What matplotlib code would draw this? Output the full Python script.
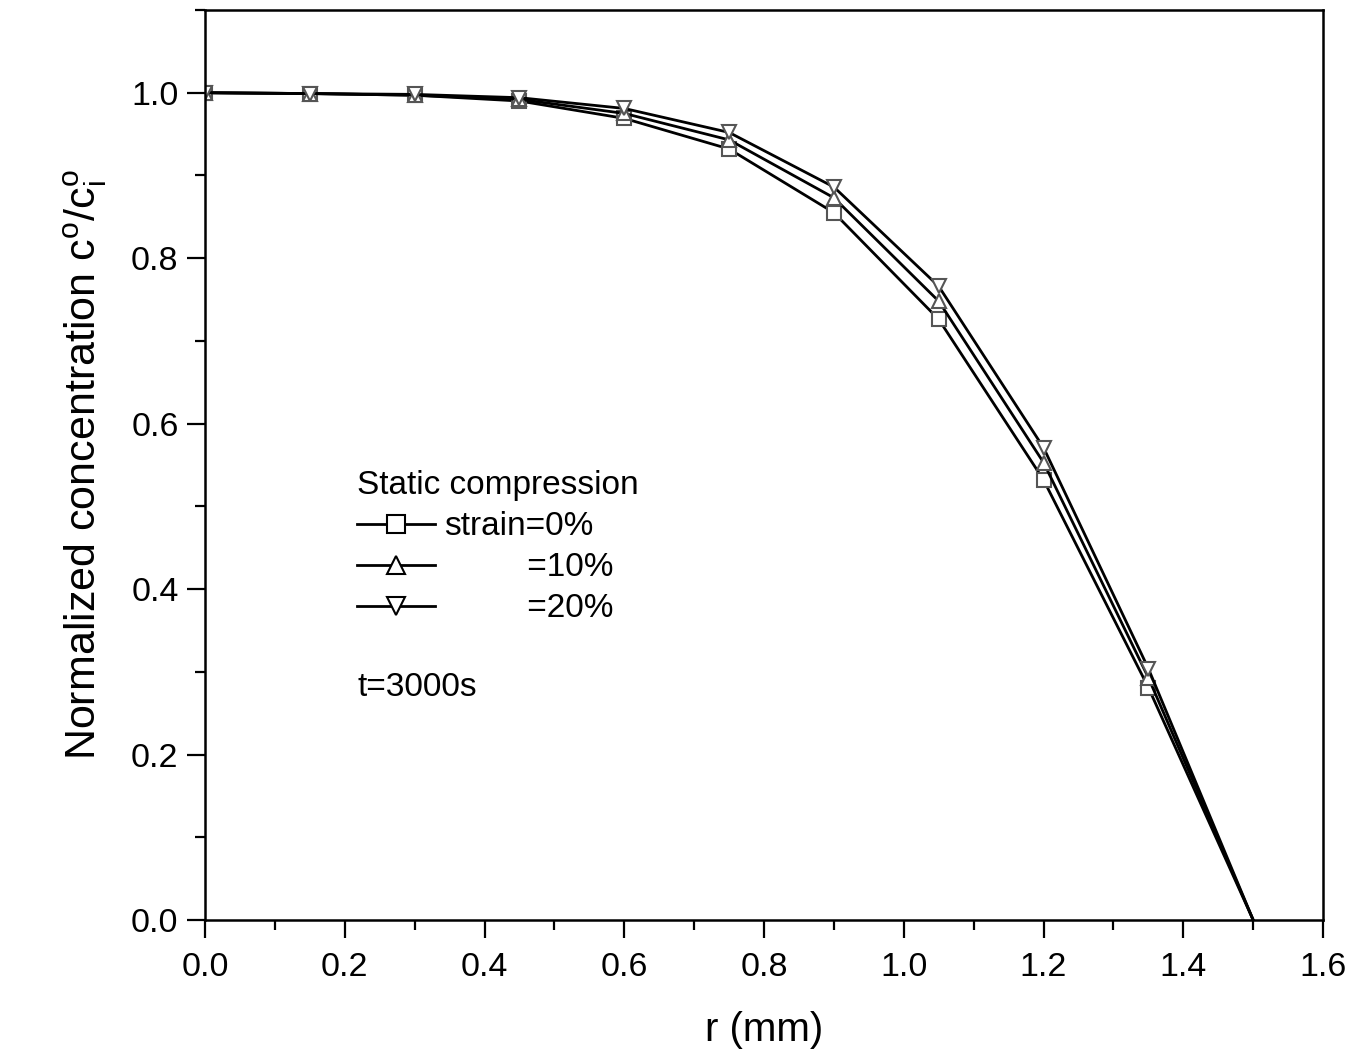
import matplotlib
matplotlib.use('Agg')
import matplotlib.pyplot as plt
from matplotlib.ticker import MultipleLocator

plt.rcParams['font.family'] = ['Liberation Sans', 'DejaVu Sans']
plt.rcParams['mathtext.default'] = 'regular'

# radial position (mm) and normalized concentration for each strain
r = [0.0, 0.15, 0.30, 0.45, 0.60, 0.75, 0.90, 1.05, 1.20, 1.35, 1.50]
strain_0 = [1.000, 0.999, 0.997, 0.990, 0.969, 0.932, 0.855, 0.726, 0.532, 0.281, 0.0]
strain_10 = [1.000, 0.999, 0.997, 0.992, 0.975, 0.943, 0.873, 0.748, 0.553, 0.293, 0.0]
strain_20 = [1.000, 0.999, 0.998, 0.994, 0.981, 0.952, 0.886, 0.766, 0.571, 0.304, 0.0]

# spaces stand in for "strain" so the "=" signs line up
labels = ['strain=0%', ' ' * 9 + '=10%', ' ' * 9 + '=20%']
markers = ['s', '^', 'v']
series = [strain_0, strain_10, strain_20]

fig = plt.figure(figsize=(13.63, 10.53), dpi=100)
ax = fig.add_axes([0.1504, 0.1263, 0.8203, 0.8642])

for y, m, lab in zip(series, markers, labels):
    ax.plot(r, y, color='black', lw=2, marker=m, markersize=10,
            markerfacecolor='white', markeredgecolor='#555555',
            markeredgewidth=1.5, markevery=slice(0, 10), label=lab)

ax.set_xlim(0, 1.6)
ax.set_ylim(0, 1.1)
ax.set_xticks([0, 0.2, 0.4, 0.6, 0.8, 1.0, 1.2, 1.4, 1.6])
ax.set_yticks([0, 0.2, 0.4, 0.6, 0.8, 1.0])
ax.xaxis.set_minor_locator(MultipleLocator(0.1))
ax.yaxis.set_minor_locator(MultipleLocator(0.1))
ax.xaxis.set_major_formatter(plt.FormatStrFormatter('%.1f'))
ax.yaxis.set_major_formatter(plt.FormatStrFormatter('%.1f'))

ax.tick_params(which='both', direction='out', top=False, right=False, width=1.6)
ax.tick_params(which='major', length=13, labelsize=24.5)
ax.tick_params(which='minor', length=7)
ax.tick_params(axis='x', which='major', pad=10)
ax.tick_params(axis='y', which='major', pad=6)
for s in ax.spines.values():
    s.set_linewidth(1.8)

ax.set_xlabel('r (mm)', fontsize=29, labelpad=20)
ax.set_ylabel(r'Normalized concentration c$^{o}$/c$^{o}_{i}$', fontsize=31, labelpad=16)

leg = ax.legend(loc='upper left', bbox_to_anchor=(0.136, 0.494), frameon=False,
                title='Static compression', title_fontsize=24, fontsize=24,
                handlelength=2.35, handletextpad=0.25, labelspacing=0.3,
                borderpad=0, borderaxespad=0, alignment='left', markerscale=1.3)
for h in leg.legend_handles:
    h.set_markeredgecolor('black')

ax.text(0.136, 0.255, 't=3000s', transform=ax.transAxes, fontsize=24,
        ha='left', va='center')

fig.savefig('out.png', dpi=100)
